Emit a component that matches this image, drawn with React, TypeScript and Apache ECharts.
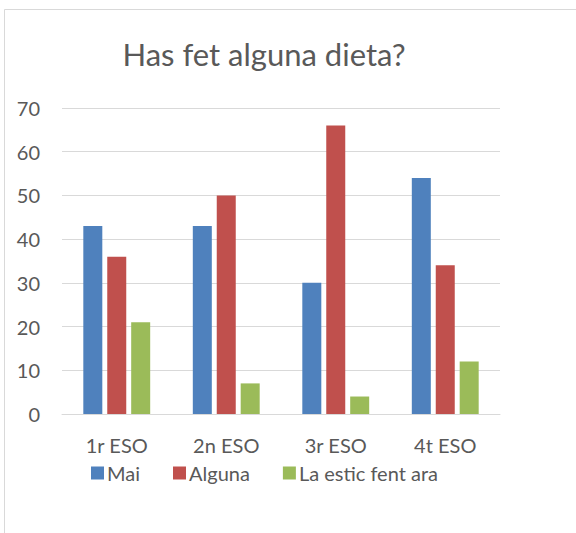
import React, { useEffect, useRef } from "react";
import * as echarts from "echarts";

const categories = ["1r ESO", "2n ESO", "3r ESO", "4t ESO"];
const seriesNames = ["Mai", "Alguna", "La estic fent ara"];
const maiValues = [43, 43, 30, 54];
const algunaValues = [36, 50, 66, 34];
const esticValues = [21, 7, 4, 12];
const colors = ["#4F81BD", "#C0504D", "#9BBB59"];
const FONT = "Lato, 'Open Sans', sans-serif";

export default function App() {
  const ref = useRef<HTMLDivElement>(null);
  useEffect(() => {
    if (!ref.current) return;
    const chart = echarts.init(ref.current, null, { renderer: "svg" });
    const values = [maiValues, algunaValues, esticValues];
    chart.setOption({
      animation: false,
      backgroundColor: "#ffffff",
      textStyle: { fontFamily: FONT },
      graphic: [
        {
          type: "rect",
          shape: { x: 4.5, y: 9.5, width: 620, height: 600 },
          style: { fill: "none", stroke: "#d9d9d9", lineWidth: 1 },
          silent: true,
        },
        {
          type: "text",
          x: 264,
          y: 54,
          style: {
            text: "Has fet alguna dieta?",
            fontFamily: FONT,
            fontSize: 31,
            fill: "#595959",
            align: "center",
            verticalAlign: "middle",
          },
        },
      ],
      legend: {
        left: 91,
        top: 463,
        padding: 0,
        itemWidth: 13,
        itemHeight: 13,
        itemGap: 33,
        icon: "rect",
        textStyle: { fontFamily: FONT, fontSize: 20, color: "#595959", padding: [0, 0, 0, -2] },
        data: seriesNames,
      },
      grid: { left: 62, right: 76, top: 108, bottom: 119, containLabel: false },
      xAxis: {
        type: "category",
        data: categories,
        axisLine: { lineStyle: { color: "#d9d9d9", width: 1 } },
        axisTick: { show: false },
        axisLabel: { fontFamily: FONT, fontSize: 20, color: "#595959", margin: 21 },
      },
      yAxis: {
        type: "value",
        min: 0,
        max: 70,
        interval: 10,
        axisLine: { show: false },
        axisTick: { show: false },
        splitLine: { lineStyle: { color: "#d9d9d9", width: 1 } },
        axisLabel: { fontFamily: FONT, fontSize: 20, color: "#595959", margin: 22 },
      },
      series: seriesNames.map((name, i) => ({
        name,
        type: "bar",
        data: values[i],
        barWidth: 19,
        barGap: "26%",
        itemStyle: { color: colors[i] },
      })),
    });
    return () => chart.dispose();
  }, []);
  return (
    <div
      ref={ref}
      style={{ position: "fixed", left: 0, top: 0, width: 576, height: 533 }}
    />
  );
}
